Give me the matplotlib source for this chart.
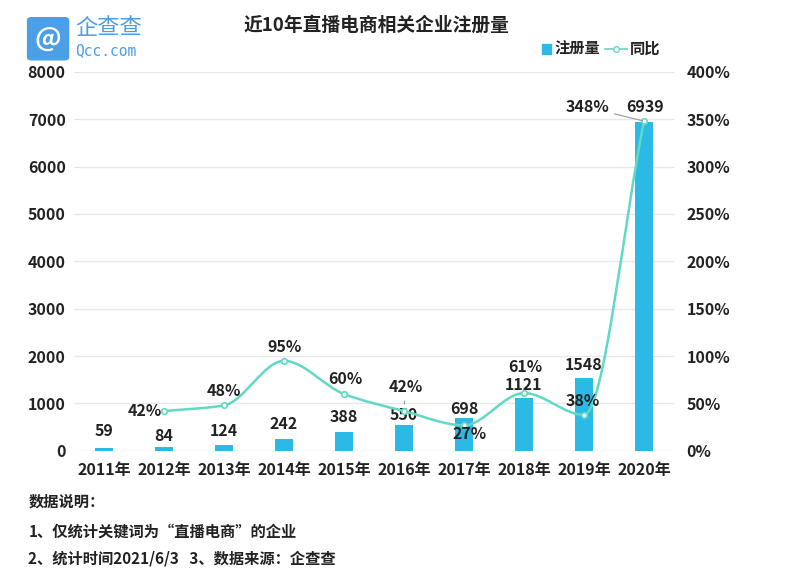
import numpy as np
import matplotlib.pyplot as plt
from matplotlib.path import Path
from matplotlib.patches import PathPatch, FancyBboxPatch

plt.rcParams['font.family'] = ['Noto Sans CJK SC', 'DejaVu Sans']

years = ['2011年', '2012年', '2013年', '2014年', '2015年', '2016年', '2017年', '2018年', '2019年', '2020年']
counts = [59, 84, 124, 242, 388, 550, 698, 1121, 1548, 6939]
yoy = [None, 42, 48, 95, 60, 42, 27, 61, 38, 348]

bar_color = '#2bb9e6'
line_color = '#62d8c6'
txt = '#222222'

fig = plt.figure(figsize=(7.88, 5.7), dpi=100)
ax = fig.add_axes([74 / 788, 0.209, 600 / 788, 0.665])
ax2 = ax.twinx()

x = np.arange(len(years))
ax.bar(x, counts, width=0.31, color=bar_color, zorder=2)
ax.set_ylim(0, 8000)
ax.set_yticks(range(0, 8001, 1000))
ax.set_xlim(-0.5, 9.5)
ax.set_xticks(x)
ax.set_xticklabels(years)
ax.grid(axis='y', color='#e8e8e8', linewidth=1, zorder=0)
for s in list(ax.spines.values()) + list(ax2.spines.values()):
    s.set_visible(False)
ax.tick_params(length=0, labelsize=11.5, labelcolor=txt)
ax.tick_params(axis='y', pad=6)
ax.tick_params(axis='x', pad=8)
for lab in ax.get_xticklabels() + ax.get_yticklabels():
    lab.set_fontweight('bold')

ax2.set_ylim(0, 400)
ax2.set_yticks(range(0, 401, 50))
ax2.set_yticklabels([f'{v}%' for v in range(0, 401, 50)])
ax2.tick_params(length=0, labelsize=11.5, labelcolor=txt, pad=9)
for lab in ax2.get_yticklabels():
    lab.set_fontweight('bold')

# smooth yoy line: monotone cubic (Fritsch-Carlson) drawn as bezier path
px = x[1:].astype(float)
py = np.array(yoy[1:], dtype=float)
d = np.diff(py) / np.diff(px)
m = np.zeros_like(py)
m[0], m[-1] = d[0], d[-1]
for i in range(1, len(py) - 1):
    m[i] = 0 if d[i - 1] * d[i] <= 0 else 2 / (1 / d[i - 1] + 1 / d[i])
verts = [(px[0], py[0])]
codes = [Path.MOVETO]
for i in range(len(px) - 1):
    h = px[i + 1] - px[i]
    verts += [(px[i] + h / 3, py[i] + m[i] * h / 3),
              (px[i + 1] - h / 3, py[i + 1] - m[i + 1] * h / 3),
              (px[i + 1], py[i + 1])]
    codes += [Path.CURVE4] * 3
ax2.add_patch(PathPatch(Path(verts, codes), facecolor='none', edgecolor=line_color, lw=1.8, zorder=3))
ax2.plot(px, py, 'o', ms=4, mfc='white', mec=line_color, mew=1.2, zorder=4)

lead = dict(arrowstyle='-', color='#9a9a9a', lw=0.8, shrinkA=2, shrinkB=1)

# bar value labels (offsets in points)
bar_off = [(0, 12), (0, 8), (0, 10), (0, 11), (0, 11), (0, 7), (0, 6), (0, 9), (0, 9)]
for i, c in enumerate(counts[:-1]):
    ax.annotate(str(c), xy=(i, c), xytext=bar_off[i], textcoords='offset points',
                ha='center', va='center', fontsize=11.5, fontweight='bold', color=txt, zorder=5)
ax.annotate(str(counts[9]), xy=(9, counts[9]), xytext=(1, 11), textcoords='offset points',
            ha='center', va='center', fontsize=11.5, fontweight='bold', color=txt, arrowprops=lead)

# yoy labels (offsets in points)
yoy_off = {1: (-14, 0), 2: (0, 10), 3: (0, 10), 4: (1, 11), 5: (1, 17), 6: (4, -6),
           7: (1, 19), 8: (-1, 10), 9: (-41, 10)}
for i, off in yoy_off.items():
    if i == 5:
        arrow = dict(lead, shrinkB=5)
    elif i == 9:
        arrow = lead
    else:
        arrow = None
    ax2.annotate(f'{yoy[i]}%', xy=(i, yoy[i]), xytext=off, textcoords='offset points',
                 ha='center', va='center', fontsize=11.5, fontweight='bold', color=txt,
                 arrowprops=arrow, zorder=5)

# title and legend
fig.text(0.478, 0.955, '近10年直播电商相关企业注册量', ha='center', va='center',
         fontsize=13.5, fontweight='bold', color=txt)
fig.patches.append(FancyBboxPatch((0.688, 0.906), 0.011, 0.016, boxstyle='square,pad=0',
                                  transform=fig.transFigure, color=bar_color))
fig.text(0.703, 0.914, '注册量', ha='left', va='center', fontsize=11, fontweight='bold', color=txt)
fig.lines.append(plt.Line2D([0.768, 0.796], [0.914, 0.914], transform=fig.transFigure,
                            color=line_color, lw=1.2))
fig.lines.append(plt.Line2D([0.782], [0.914], transform=fig.transFigure, color=line_color,
                            marker='o', ms=4, mfc='white', mec=line_color))
fig.text(0.799, 0.914, '同比', ha='left', va='center', fontsize=11, fontweight='bold', color=txt)

# logo
fig.patches.append(FancyBboxPatch((0.040, 0.900), 0.042, 0.064, boxstyle='round,pad=0.005',
                                  transform=fig.transFigure, color='#4a9fe6'))
fig.text(0.061, 0.932, '@', ha='center', va='center', fontsize=19, color='white', fontweight='bold')
fig.text(0.095, 0.952, '企查查', ha='left', va='center', fontsize=16, color='#4a9fe6')
fig.text(0.095, 0.912, 'Qcc.com', ha='left', va='center', fontsize=10.5, color='#4a9fe6',
         family='DejaVu Sans Mono')

# notes
fig.text(0.036, 0.120, '数据说明：', ha='left', va='center', fontsize=11, fontweight='bold', color=txt)
fig.text(0.036, 0.068, '1、仅统计关键词为“直播电商”的企业', ha='left', va='center', fontsize=11,
         fontweight='bold', color=txt)
fig.text(0.036, 0.020, '2、统计时间2021/6/3   3、数据来源：企查查', ha='left', va='center', fontsize=11,
         fontweight='bold', color=txt)

fig.savefig('out.png', dpi=100, facecolor='white')
